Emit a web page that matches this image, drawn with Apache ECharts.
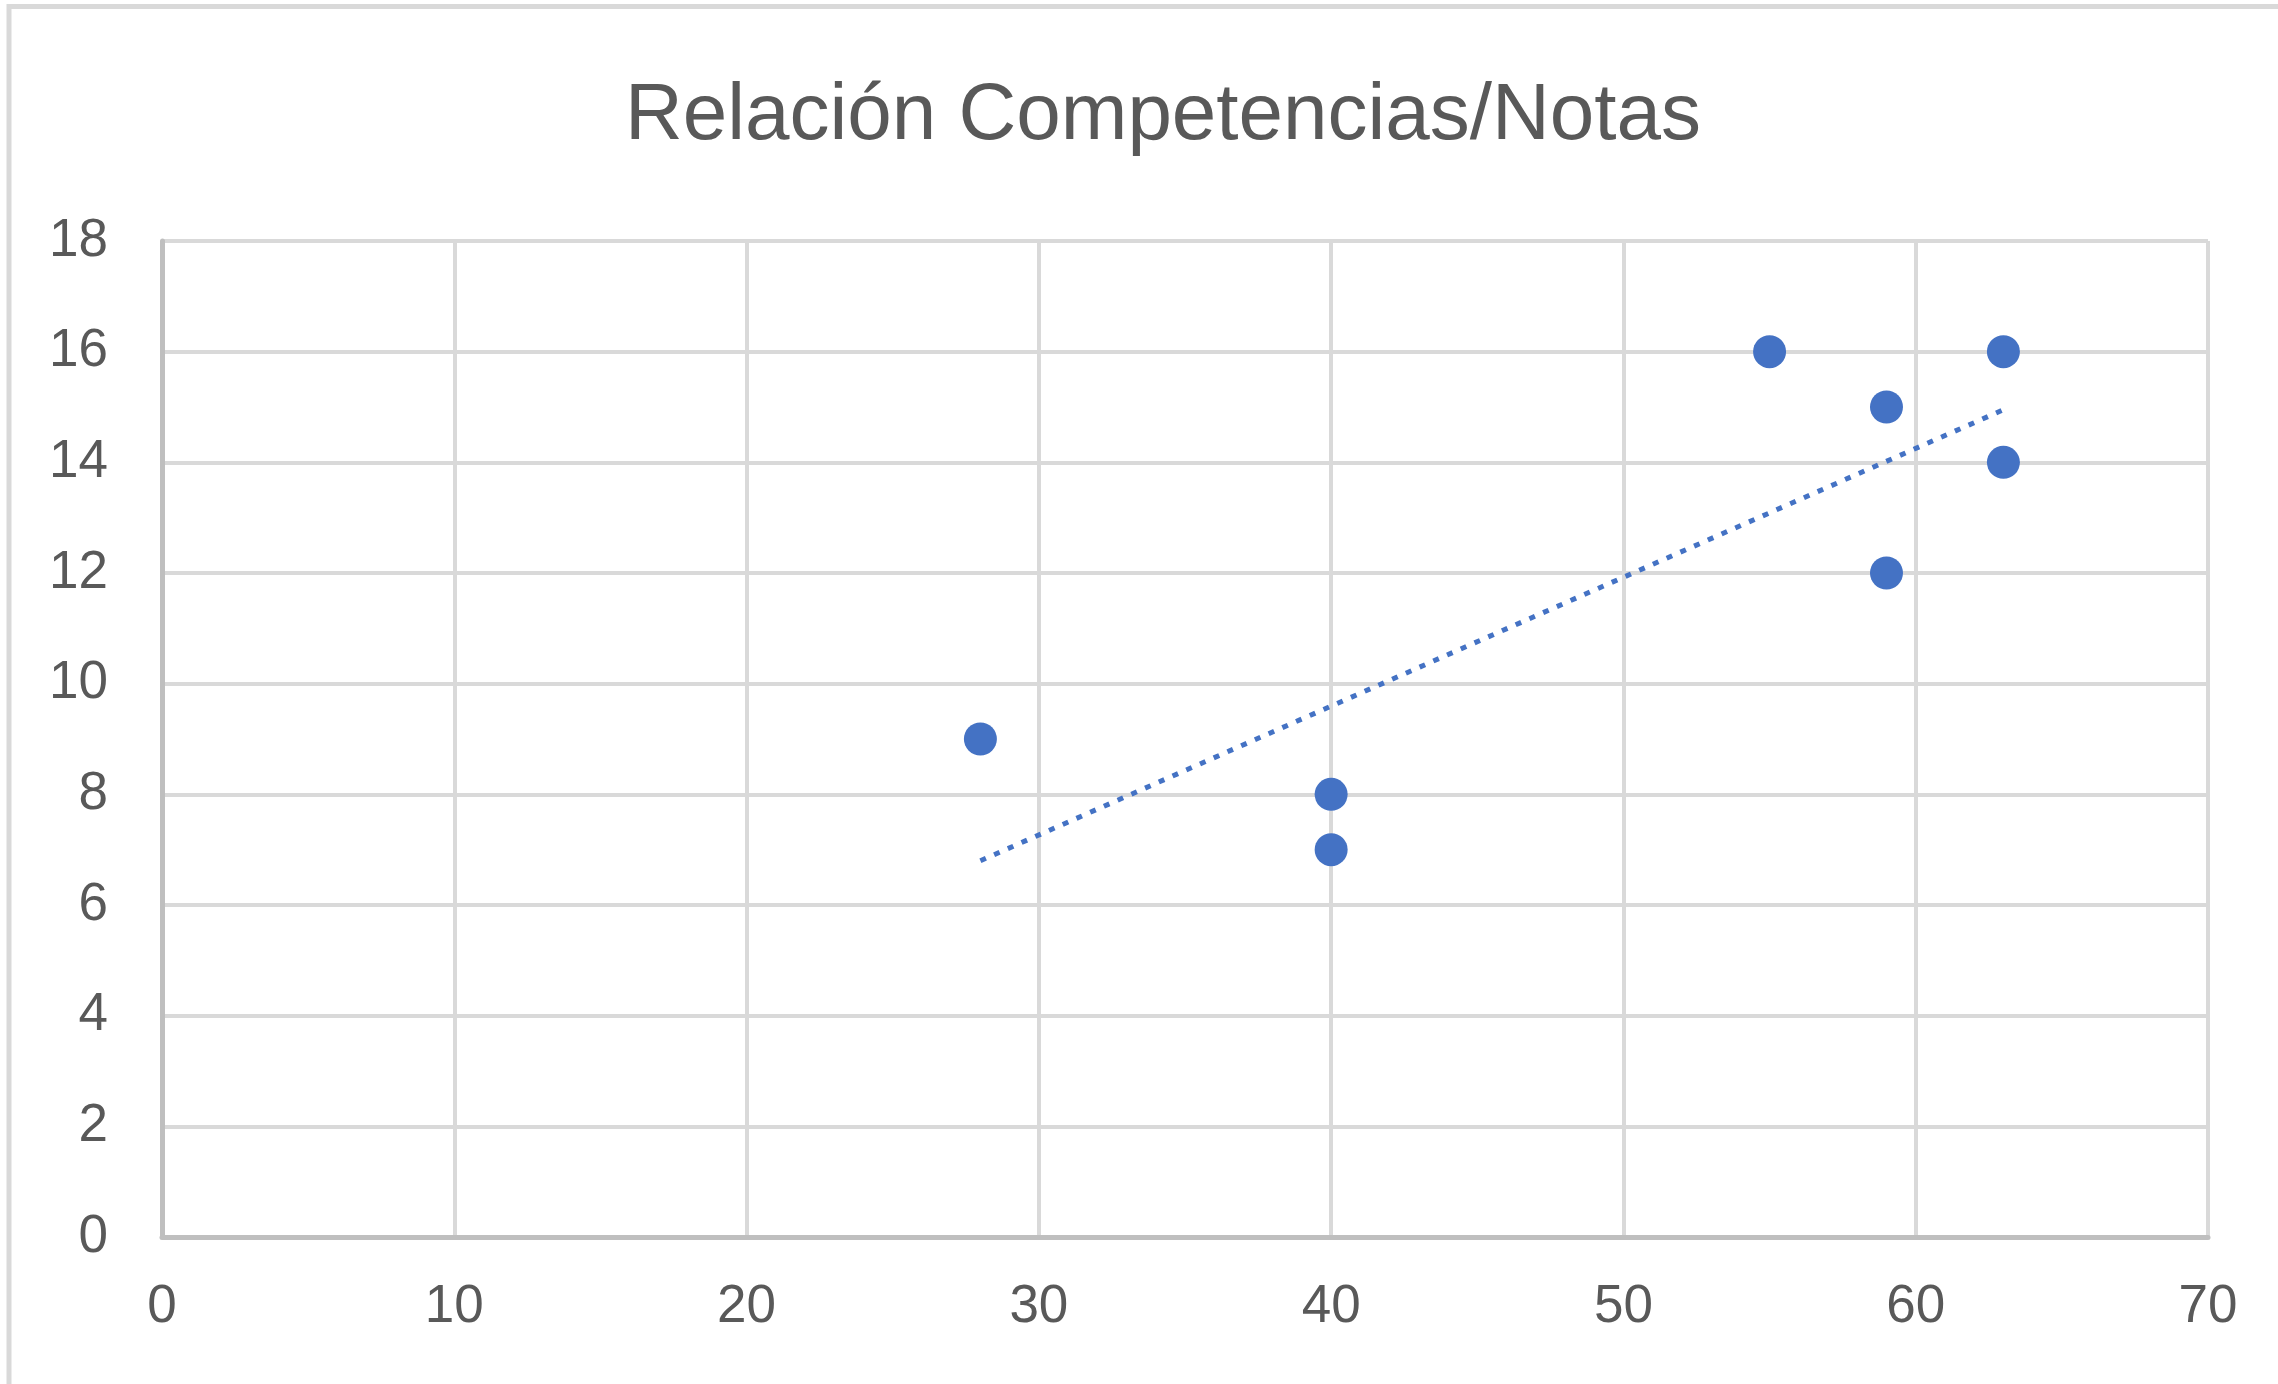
<!DOCTYPE html>
<html>
<head>
<meta charset="utf-8">
<title>Relación Competencias/Notas</title>
<script src="https://cdn.jsdelivr.net/npm/echarts@6/dist/echarts.min.js"></script>
<style>
  html, body { margin: 0; padding: 0; background: #fff; }
  #chart { width: 2278px; height: 1384px; }
</style>
</head>
<body>
<div id="chart"></div>
<script>
  // puntos (competencias, nota)
  var competencias = [28, 40, 40, 55, 59, 59, 63, 63];
  var notas = [9, 8, 7, 16, 15, 12, 16, 14];
  // extremos de la línea de tendencia
  var tendenciaX = [28, 63];
  var tendenciaY = [6.8, 14.95];
  var xTicks = [0, 10, 20, 30, 40, 50, 60, 70];
  var yTicks = [0, 2, 4, 6, 8, 10, 12, 14, 16, 18];

  var puntos = [];
  for (var i = 0; i < competencias.length; i++) {
    puntos.push([competencias[i], notas[i]]);
  }
  var tendencia = [];
  for (var j = 0; j < tendenciaX.length; j++) {
    tendencia.push([tendenciaX[j], tendenciaY[j]]);
  }

  var chart = echarts.init(document.getElementById('chart'));
  var option = {
    animation: false,
    backgroundColor: '#ffffff',
    textStyle: { fontFamily: 'Liberation Sans' },
    graphic: [{
      type: 'rect',
      z: -10,
      shape: { x: 9, y: 6.5, width: 2400, height: 1500 },
      style: { fill: 'none', stroke: '#d9d9d9', lineWidth: 5 }
    }],
    title: {
      text: 'Relación Competencias/Notas',
      left: 1158,
      top: 72,
      textAlign: 'center',
      textStyle: {
        color: '#595959',
        fontSize: 80,
        fontWeight: 'normal',
        fontFamily: 'Liberation Sans'
      }
    },
    grid: { left: 162, right: 70, top: 241, bottom: 147 },
    xAxis: {
      type: 'value',
      min: xTicks[0],
      max: xTicks[xTicks.length - 1],
      interval: 10,
      axisLine: { show: true, onZero: false, lineStyle: { color: '#bfbfbf', width: 5 } },
      axisTick: { show: false },
      splitLine: { show: true, lineStyle: { color: '#d9d9d9', width: 4 } },
      axisLabel: { color: '#595959', fontSize: 53, margin: 44 }
    },
    yAxis: {
      type: 'value',
      min: yTicks[0],
      max: yTicks[yTicks.length - 1],
      interval: 2,
      axisLine: { show: true, onZero: false, lineStyle: { color: '#bfbfbf', width: 5 } },
      axisTick: { show: false },
      splitLine: { show: true, lineStyle: { color: '#d9d9d9', width: 4 } },
      axisLabel: { color: '#595959', fontSize: 53, margin: 54 }
    },
    series: [{
      name: 'Notas',
      type: 'scatter',
      symbol: 'circle',
      symbolSize: 33,
      itemStyle: { color: '#4472c4', opacity: 1 },
      data: puntos,
      z: 3
    }, {
      name: 'Lineal (Notas)',
      type: 'line',
      showSymbol: false,
      symbol: 'none',
      lineStyle: { color: '#4472c4', width: 5, type: [6, 9], cap: 'butt' },
      data: tendencia,
      z: 2
    }]
  };
  chart.setOption(option);
</script>
</body>
</html>
